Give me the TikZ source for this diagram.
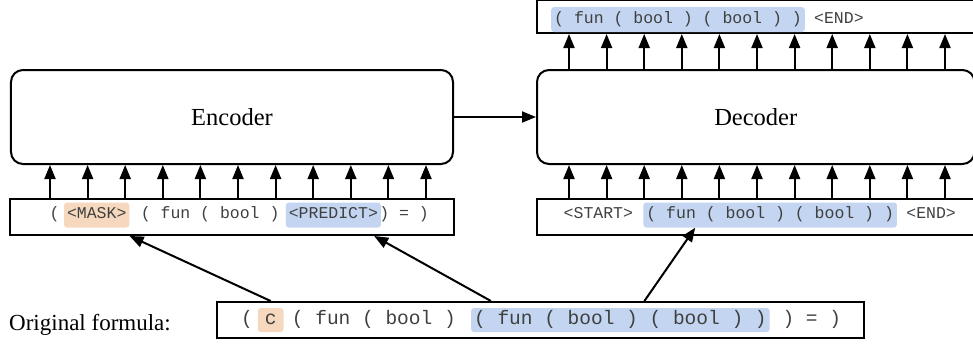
\documentclass[tikz,border=0pt]{standalone}
\usepackage{fontspec}
\setmainfont{Liberation Serif}
\setmonofont{Liberation Mono}
\usepackage{xcolor}
\usepackage{tikz}
\usetikzlibrary{positioning,calc,arrows.meta}
\definecolor{maskOrange}{RGB}{246,216,190}
\definecolor{spanBlue}{RGB}{195,213,240}
\tikzset{
  modelBox/.style={
    rectangle,
    rounded corners=12bp,
    draw=black,
    line width=2bp,
    minimum width=442bp,
    minimum height=94bp,
    font=\fontsize{24.5bp}{28bp}\selectfont,
    align=center
  },
  tokenRow/.style={
    rectangle,
    draw=black,
    line width=2bp,
    minimum height=36bp,
    inner sep=0pt
  },
  tokenText/.style={
    text=black!75,
    inner xsep=0pt,
    inner ysep=6bp,
    text height=10bp,
    text depth=3bp,
    font=\fontsize{16.5bp}{18bp}\selectfont\ttfamily
  },
  origText/.style={
    text=black!75,
    inner xsep=0pt,
    inner ysep=4.5bp,
    text height=11.5bp,
    text depth=3.5bp,
    font=\fontsize{19.5bp}{22bp}\selectfont\ttfamily
  },
  maskMark/.style={
    fill=maskOrange,
    rounded corners=3bp,
    inner xsep=3bp
  },
  spanMark/.style={
    fill=spanBlue,
    rounded corners=3bp,
    inner xsep=3bp
  },
  arrowLine/.style={
    -{Triangle[length=14bp,width=11bp]},
    line width=2bp
  }
}
\begin{document}
\begin{tikzpicture}[x=1bp,y=1bp]
        \useasboundingbox (0,0) rectangle (973,-345);

        % encoder and decoder
        \node[modelBox] (enc) at (232,-117) {Encoder};
        \node[modelBox, minimum width=437.5bp, right=82bp of enc] (dec) {Decoder};
        \draw[arrowLine] (enc) -- (dec);

        % token rows
        \node[tokenRow, minimum width=443bp, below=33bp of enc] (encIn) {};
        \node[tokenRow, minimum width=445bp, below=33bp of dec.south west, anchor=north west] (decIn) {};
        \node[tokenRow, minimum width=445bp, minimum height=33.5bp, above=35bp of dec.north west, anchor=south west] (outRow) {};
        \node[tokenRow, minimum width=647bp] (origRow) at (540.5,-320) {};
        \node[font=\fontsize{23bp}{26bp}\selectfont, inner sep=0pt, anchor=base west] (origLabel) at (9,-330) {Original formula:};

        % encoder input
        \node[tokenText, anchor=west] (e1) at (49.5,-215) {(};
        \node[tokenText, maskMark, right=4bp of e1] (e2) {<MASK>};
        \node[tokenText, right=11bp of e2] (e3) {( fun ( bool )};
        \node[tokenText, spanMark, right=6bp of e3] (e4) {<PREDICT>};
        \node[tokenText, right=-2bp of e4] (e5) {) = )};

        % decoder input
        \node[tokenText, anchor=west] (d1) at (563.5,-215) {<START>};
        \node[tokenText, spanMark, right=10bp of d1] (d2) {( fun ( bool ) ( bool ) )};
        \node[tokenText, right=9bp of d2] (d3) {<END>};

        % decoder output
        \node[tokenText, spanMark, anchor=west] (o1) at (551,-19.5) {( fun ( bool ) ( bool ) )};
        \node[tokenText, right=9bp of o1] (o2) {<END>};

        % original formula
        \node[origText, anchor=west] (r1) at (241,-320) {(};
        \node[origText, maskMark, inner xsep=7bp, right=4.5bp of r1] (r2) {c};
        \node[origText, right=8bp of r2] (r3) {( fun ( bool )};
        \node[origText, spanMark, right=15bp of r3] (r4) {( fun ( bool ) ( bool ) )};
        \node[origText, right=12.5bp of r4] (r5) {) = )};

        % token arrows
        \foreach \i in {0,...,10} {
            \draw[arrowLine] ($(enc.south west |- encIn.north)+(40+37.6*\i,0)$) -- ($(enc.south west)+(40+37.6*\i,0)$);
            \draw[arrowLine] ($(dec.south west |- decIn.north)+(33+37.6*\i,0)$) -- ($(dec.south west)+(33+37.6*\i,0)$);
            \draw[arrowLine] ($(dec.north west)+(33+37.6*\i,0)$) -- ($(dec.north west |- outRow.south)+(33+37.6*\i,0)$);
        }

        \draw[arrowLine] (r2.north |- origRow.north) -- (e2.south east |- encIn.south);
        \draw[arrowLine] ($(r4.west |- origRow.north)+(20,0)$) -- ($(e4.east |- encIn.south)+(-7,0)$);
        \draw[arrowLine] ($(r4.north |- origRow.north)+(24,0)$) -- ($(d2.south west)+(52,0)$);
    \end{tikzpicture}
\end{document}
